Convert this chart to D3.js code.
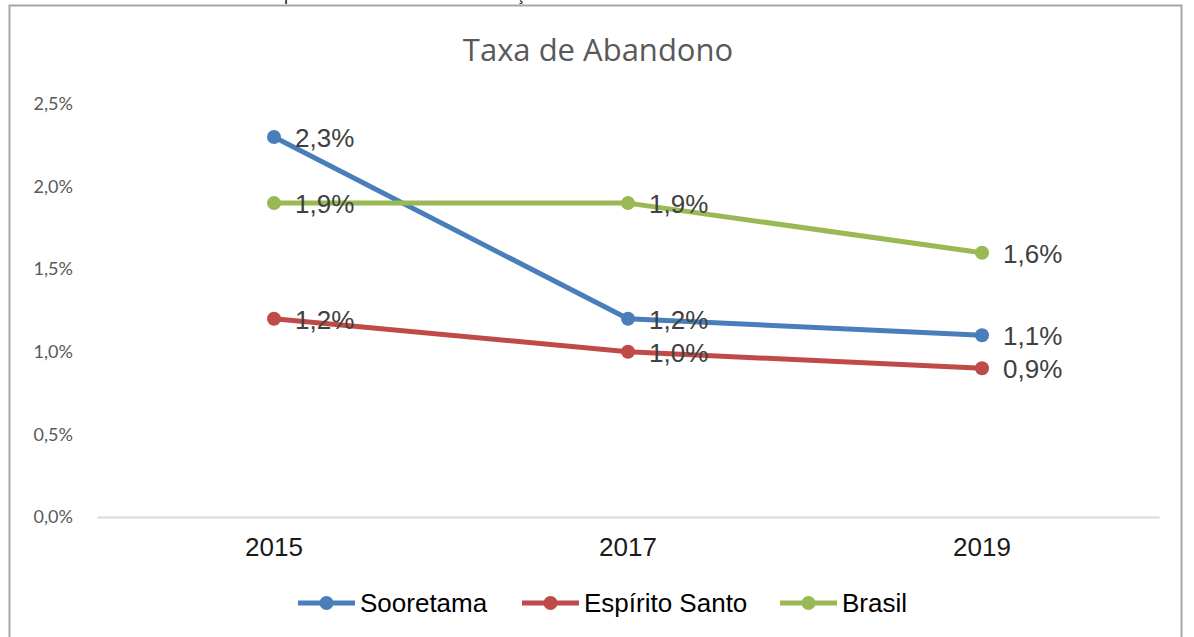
<!DOCTYPE html>
<html>
<head>
<meta charset="utf-8">
<script src="https://cdn.jsdelivr.net/npm/d3@7"></script>
<style>
  body { margin: 0; background: #fff; }
  svg { display: block; }
</style>
</head>
<body>
<div id="chart"></div>
<script>
var w = 1194;
var h = 637;

var years = ["2015", "2017", "2019"];
var sooretama = [2.3, 1.2, 1.1];
var espiritoSanto = [1.2, 1.0, 0.9];
var brasil = [1.9, 1.9, 1.6];
var yTicks = [0, 0.5, 1.0, 1.5, 2.0, 2.5];

var series = [
    { name: "Sooretama", values: sooretama, color: "#4A7EBB" },
    { name: "Espírito Santo", values: espiritoSanto, color: "#BE4B48" },
    { name: "Brasil", values: brasil, color: "#98B954" }
];

var svg = d3.select("#chart")
    .append("svg")
    .attr("width", w)
    .attr("height", h);

// bits of the page text above the chart (only descenders visible)
svg.append("text").attr("x", 284).attr("y", 0).attr("font-family", "Liberation Sans")
    .attr("font-size", 18).attr("fill", "#222").text("p");
svg.append("text").attr("x", 516).attr("y", 0).attr("font-family", "Liberation Sans")
    .attr("font-size", 18).attr("fill", "#222").text("ç");

// chart border
svg.append("rect")
    .attr("x", 9.5).attr("y", 5.5)
    .attr("width", 1172).attr("height", 660)
    .attr("fill", "none")
    .attr("stroke", "#a6a6a6")
    .attr("stroke-width", 2);

var xScale = d3.scaleBand().domain(years).range([97, 1159]);
var yScale = d3.scaleLinear().domain([0, 2.5]).range([517, 104]);

function fmt(v) {
    return d3.format(".1f")(v).replace(".", ",") + "%";
}

svg.append("text")
    .attr("x", 598).attr("y", 61)
    .attr("text-anchor", "middle")
    .attr("font-family", "'Open Sans', Lato, sans-serif")
    .attr("font-size", 31)
    .attr("fill", "#595959")
    .text("Taxa de Abandono");

// y axis labels
var yAxis = d3.axisLeft(yScale).tickValues(yTicks).tickSize(0).tickPadding(24).tickFormat(fmt);
var gy = svg.append("g")
    .attr("transform", "translate(97,0)")
    .call(yAxis);
gy.select(".domain").remove();
gy.selectAll("text")
    .attr("font-family", "Lato, 'Open Sans', sans-serif")
    .attr("font-size", 18)
    .attr("fill", "#595959");

// x axis
var xAxis = d3.axisBottom(xScale).tickSize(0).tickPadding(21);
var gx = svg.append("g")
    .attr("transform", "translate(0,517)")
    .call(xAxis);
gx.select(".domain").attr("stroke", "#d9d9d9").attr("stroke-width", 2);
gx.selectAll("text")
    .attr("font-family", "Liberation Sans, Arial, sans-serif")
    .attr("font-size", 26)
    .attr("fill", "#1a1a1a");

var cx = function (d, i) { return xScale(years[i]) + xScale.bandwidth() / 2; };

var line = d3.line()
    .x(function (d, i) { return cx(d, i); })
    .y(function (d) { return yScale(d); });

series.forEach(function (s) {
    svg.append("path")
        .datum(s.values)
        .attr("d", line)
        .attr("fill", "none")
        .attr("stroke", s.color)
        .attr("stroke-width", 5)
        .attr("stroke-linejoin", "round");
});

series.forEach(function (s) {
    svg.selectAll(null)
        .data(s.values)
        .enter()
        .append("circle")
        .attr("cx", cx)
        .attr("cy", function (d) { return yScale(d); })
        .attr("r", 7)
        .attr("fill", s.color);
});

series.forEach(function (s) {
    svg.selectAll(null)
        .data(s.values)
        .enter()
        .append("text")
        .attr("x", function (d, i) { return cx(d, i) + 21; })
        .attr("y", function (d) { return yScale(d) + 10; })
        .attr("font-family", "Liberation Sans, Arial, sans-serif")
        .attr("font-size", 26)
        .attr("fill", "#404040")
        .text(fmt);
});

// legend
var legendX = [298, 522, 780];
var lg = svg.selectAll(".legend")
    .data(series)
    .enter()
    .append("g")
    .attr("class", "legend")
    .attr("transform", function (d, i) { return "translate(" + legendX[i] + ",603)"; });
lg.append("line")
    .attr("x1", 0).attr("x2", 57)
    .attr("stroke", function (d) { return d.color; })
    .attr("stroke-width", 5);
lg.append("circle")
    .attr("cx", 28.5).attr("r", 7)
    .attr("fill", function (d) { return d.color; });
lg.append("text")
    .attr("x", 62).attr("y", 9)
    .attr("font-family", "Liberation Sans, Arial, sans-serif")
    .attr("font-size", 26)
    .attr("fill", "#000")
    .text(function (d) { return d.name; });
</script>
</body>
</html>
